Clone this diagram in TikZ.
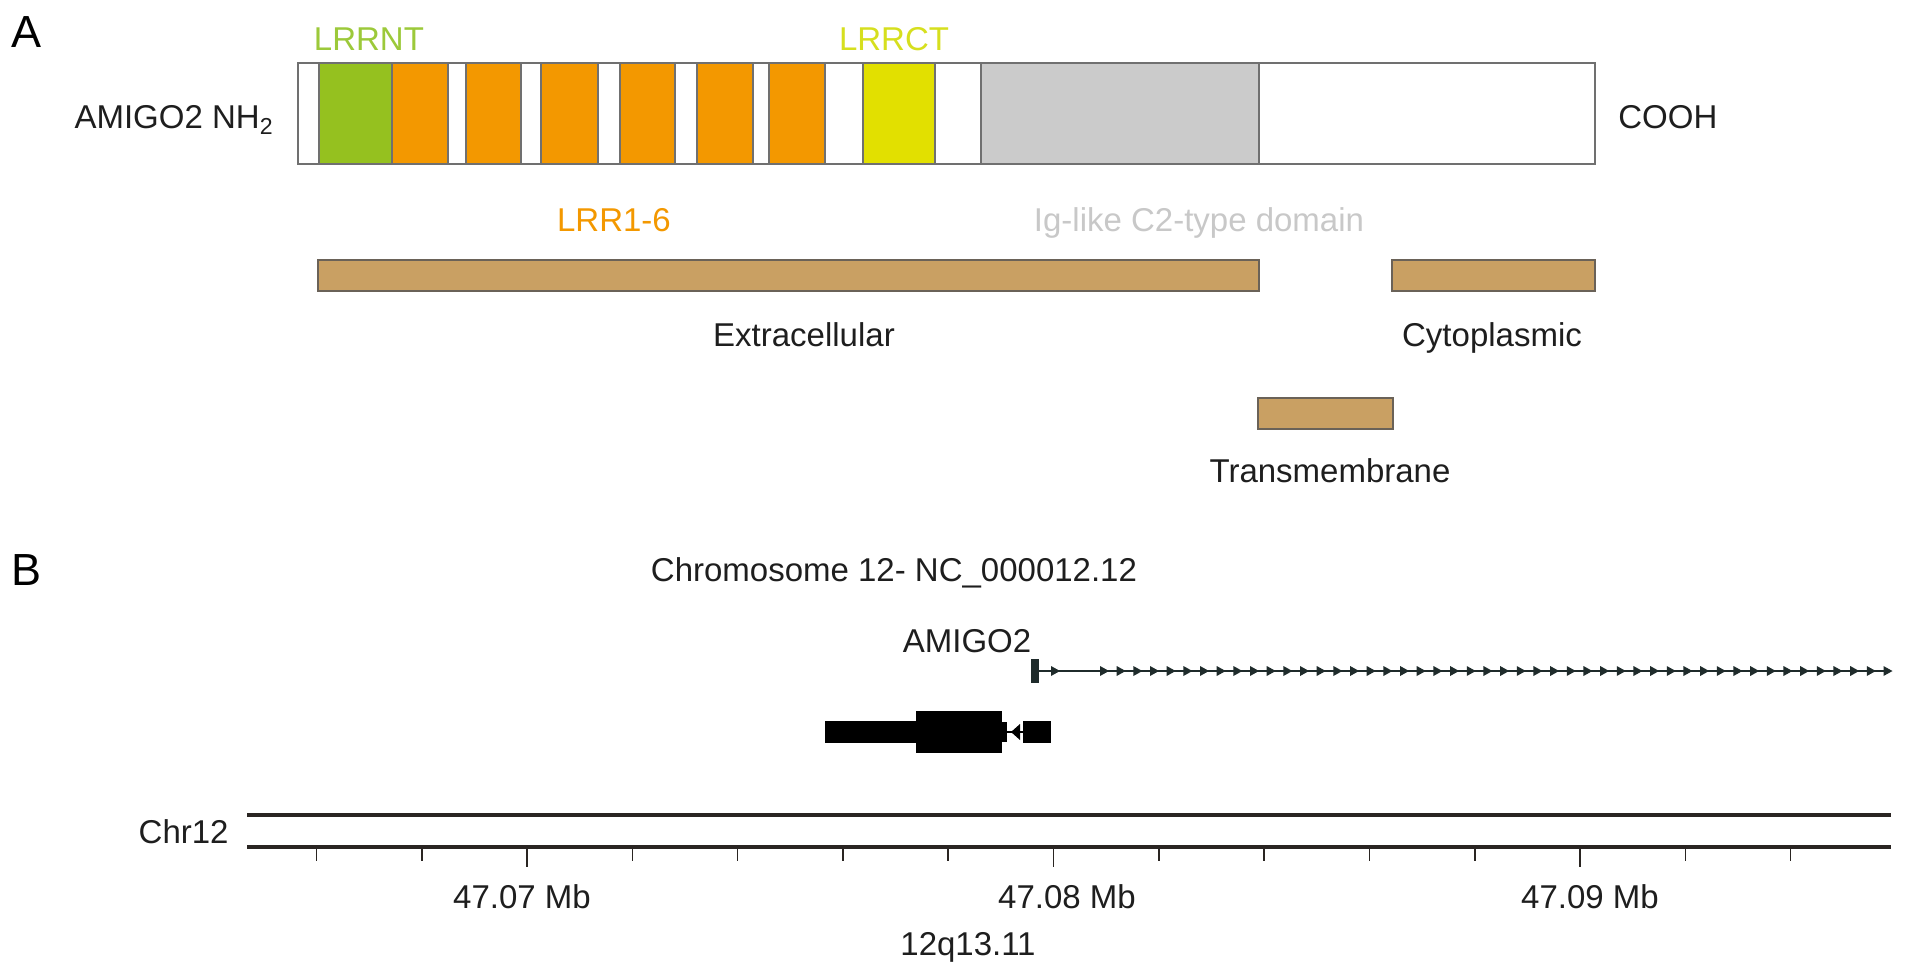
\documentclass[tikz,border=0pt]{standalone}
\usepackage{fontspec}
\setmainfont{Liberation Sans}
\definecolor{lrrgreen}{HTML}{95C11F}
\definecolor{lrrorange}{HTML}{F39800}
\definecolor{lrryellow}{HTML}{E2E000}
\definecolor{iggray}{HTML}{CBCBCB}
\definecolor{tanfill}{HTML}{C9A063}
\definecolor{tanline}{HTML}{6A6258}
\definecolor{segline}{HTML}{707070}
\definecolor{ntgreen}{HTML}{9CC93A}
\definecolor{ctyellow}{HTML}{D6DF1E}
\definecolor{igtext}{HTML}{C8C8C8}
\definecolor{txt}{HTML}{1E1E1E}
\definecolor{chrline}{HTML}{2A2522}
\definecolor{geneline}{HTML}{1F2B2B}
\begin{document}
\begin{tikzpicture}[x=0.5pt,y=-0.5pt,
  lbl/.style={font=\fontsize{16.5}{19}\selectfont, text=txt, inner sep=0pt, anchor=base},
  panel/.style={font=\fontsize{22.5}{26}\selectfont, text=black, inner sep=0pt, anchor=base west},
  seg/.style={draw=segline, line width=0.7pt},
  tanbar/.style={fill=tanfill, draw=tanline, line width=1pt},
  chr/.style={draw=chrline, line width=1.6pt},
  tick/.style={draw=chrline, line width=0.8pt},
  gl/.style={draw=geneline, line width=1.2pt}]
\useasboundingbox (0,0) rectangle (1913,979);

% ---------------- Panel A ----------------
\node[panel] (pa) at (11,48) {A};
\node[lbl, text=ntgreen] (lrrnt) at (369,51) {LRRNT};
\node[lbl, text=ctyellow] (lrrct) at (894,51) {LRRCT};
\node[lbl, anchor=base east] (nterm) at (274,129) {AMIGO2 NH\textsubscript{2}};
\node[lbl, anchor=base west] (cterm) at (1618,129) {COOH};

\draw[seg, fill=white] (298,63) rectangle (1595,164);
\draw[seg, fill=lrrgreen] (319,63) rectangle (392,164);
\foreach \a/\b in {392/448,466/521,541/598,620/675,697/753,769/825}
  \draw[seg, fill=lrrorange] (\a,63) rectangle (\b,164);
\draw[seg, fill=lrryellow] (863,63) rectangle (935,164);
\draw[seg, fill=iggray] (981,63) rectangle (1259,164);
\draw[seg] (298,63) rectangle (1595,164);

\node[lbl, text=lrrorange] (lrr) at (614,232) {LRR1-6};
\node[lbl, text=igtext] (ig) at (1199,232) {Ig-like C2-type domain};

\draw[tanbar] (318,260) rectangle (1259,291);
\draw[tanbar] (1392,260) rectangle (1595,291);
\draw[tanbar] (1258,398) rectangle (1393,429);

\node[lbl] (extra) at (804,346) {Extracellular};
\node[lbl] (cyto) at (1492,346) {Cytoplasmic};
\node[lbl] (tm) at (1330,482) {Transmembrane};

% ---------------- Panel B ----------------
\node[panel] (pb) at (11,585) {B};
\node[lbl] (chrom) at (894,581) {Chromosome 12- NC\_000012.12};
\node[lbl] (gene) at (967,652) {AMIGO2};

% gene track
\draw[gl] (1035,671) -- (1889,671);
\fill[geneline] (1031,659) rectangle (1039,683);
\fill[geneline] (1051,666) -- (1060,671) -- (1051,676) -- cycle;
\foreach \i [evaluate=\i as \x using 1107+16.67*\i] in {0,...,47}
  \fill[geneline] ({\x-7},666) -- ({\x+2},671) -- ({\x-7},676) -- cycle;

% transcript
\fill[black] (825,721) rectangle (917,743);
\fill[black] (916,711) rectangle (1002,753);
\fill[black] (1002,722) rectangle (1007,742);
\draw[black, line width=1pt] (1007,732) -- (1023,732);
\fill[black] (1011,732) -- (1020,724) -- (1020,740) -- cycle;
\fill[black] (1023,721) rectangle (1051,743);

% chromosome axis
\node[lbl, anchor=base east] (chr12) at (229,843) {Chr12};
\draw[chr] (247,815) -- (1891,815);
\draw[chr] (247,847) -- (1891,847);
\foreach \k in {-2,...,12}{
  \pgfmathsetmacro{\tx}{527+105.3*\k}
  \pgfmathtruncatemacro{\m}{mod(\k+10,5)}
  \ifnum\m=0
    \draw[tick] (\tx,847) -- (\tx,867);
  \else
    \draw[tick] (\tx,847) -- (\tx,861);
  \fi
}
\node[lbl] (mb07) at (522,908) {47.07 Mb};
\node[lbl] (mb08) at (1067,908) {47.08 Mb};
\node[lbl] (mb09) at (1590,908) {47.09 Mb};
\node[lbl] (band) at (968,955) {12q13.11};
\end{tikzpicture}
\end{document}
